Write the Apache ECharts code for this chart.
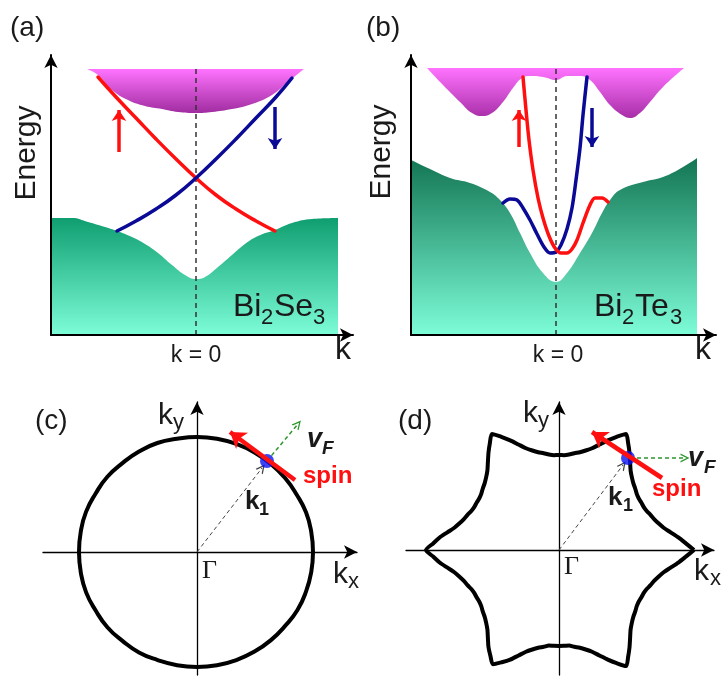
<!DOCTYPE html>
<html><head><meta charset="utf-8">
<script src="https://cdn.jsdelivr.net/npm/echarts@6/dist/echarts.min.js"></script>
<style>html,body{margin:0;padding:0;background:#fff}#c{width:722px;height:677px}</style>
</head><body><div id="c"></div><script>
// ---------- Panel (a) Bi2Se3 : [k, E] ----------
const A_COND_TOP = 266;
const A_COND_LOWER = [[-109,266],[-98,260],[-84,245],[-68,235],[-51,229],[-34,226],[-18,223],[0,222],[16,223],[36,226],[56,231],[76,240],[92,253],[108,266]];
const A_VAL_TOP = [[-145,117],[-124,117],[-108,113],[-91,108],[-79,104],[-64,98],[-51,91],[-38,82],[-24,70],[-11,60],[0,56],[9,58],[22,68],[36,80],[49,91],[62,99],[79,105],[96,112],[116,116],[142,117]];
const A_SURF_UP = [[-98,258],[-80,238],[-60,217],[-40,196],[-20,176],[0,157],[20,140],[40,126],[60,114],[79,104]];
const A_SURF_DN = [[-79,104],[-60,114],[-40,126],[-20,140],[0,157],[20,176],[40,196],[60,217],[80,238],[96,257]];
const A_ARROW_UP = [[-77,183],[-77,225]];
const A_ARROW_DN = [[79,228],[79,186]];
const A_K0 = [[0,0],[0,266]];

// ---------- Panel (b) Bi2Te3 ----------
const B_COND_TOP = 267;
const B_COND_LOWER = [[-129,267],[-113,250],[-96,233],[-84,222],[-74,219],[-64,222],[-53,233],[-43,247],[-34,257],[-26,259],[-13,258],[0,255],[11,259],[24,259],[34,255],[44,243],[54,230],[66,220],[74,217],[84,222],[94,233],[107,248],[128,267]];
const B_VAL_TOP = [[-145,175],[-126,166],[-106,157],[-86,152],[-66,143],[-56,135],[-46,122],[-36,102],[-26,82],[-13,62],[0,53],[11,62],[24,82],[36,102],[46,122],[54,135],[64,145],[87,153],[107,158],[127,168],[141,177]];
const B_SURF_UP = [[-33,258],[-30,225],[-27,195],[-23,165],[-18,137],[-13,117],[-7,99],[-1,87],[5,82],[11,82],[16,86],[21,95],[27,112],[34,130],[39,137],[46,137],[52,133]];
const B_SURF_DN = [[-53,132],[-46,136],[-39,135],[-33,127],[-26,115],[-19,101],[-12,88],[-6,82],[0,83],[5,90],[11,106],[16,127],[20,155],[24,187],[27,220],[31,258]];
const B_ARROW_UP = [[-37,188],[-37,225]];
const B_ARROW_DN = [[36,227],[36,188]];
const B_K0 = [[0,0],[0,267]];

// ---------- Panel (c) circular Fermi surface (polar: angle deg, radius) ----------
const C_FS_ANG = [0,10,20,30,40,50,60,70,80,90,100,110,120,130,140,150,160,170,180,190,200,210,220,230,240,250,260,270,280,290,300,310,320,330,340,350,360];
const C_FS_R   = [116,116,116,115,115,115,115,115,115,115,115,116,116,116,117,117,118,118,118,118,118,117,117,116,116,115,115,115,115,115,115,115,115,116,116,116,116];
const C_K1 = [[0,0],[65,84]];
const C_SPIN = [[98,72],[33,120]];
const C_VF = [[70,91],[101,128]];
const C_DOT = [[70,91]];

// ---------- Panel (d) hexagonally warped Fermi surface ----------
const D_FS_ANG = [0,3,6,9,12,15,18,21,24,27,30,33,36,39,42,45,48,51,54,57,
  60,63,66,69,72,75,78,81,84,87,90,93,96,99,102,105,108,111,114,117,
  120,123,126,129,132,135,138,141,144,147,150,153,156,159,162,165,168,171,174,177,
  180,183,186,189,192,195,198,201,204,207,210,213,216,219,222,225,228,231,234,237,
  240,243,246,249,252,255,258,261,264,267,270,273,276,279,282,285,288,291,294,297,
  300,303,306,309,312,315,318,321,324,327,330,333,336,339,342,345,348,351,354,357,360];
const D_FS_R = [135,127,120,113,107,103,100,98,96,95,95,95,96,98,100,103,107,113,120,127,
  134,127,120,113,107,103,100,98,96,95,95,95,96,98,100,103,107,113,120,127,
  134,127,120,113,107,103,100,98,96,95,95,95,96,98,100,103,107,113,120,126,
  133,126,120,113,107,103,100,98,96,95,95,95,96,98,100,103,107,113,120,126,
  132,126,120,113,107,103,100,98,96,96,96,96,96,98,100,103,107,113,120,127,
  134,127,120,113,107,103,100,98,96,95,95,95,96,98,100,103,107,113,120,127,135];
const D_K1 = [[0,0],[64,85]];
const D_SPIN = [[103,72],[33,118]];
const D_VF = [[78,92],[126,92]];
const D_DOT = [[69,92]];

// ---------- styling ----------
const RED = '#ff1010', BLUE = '#0a0a96', GREEN_ARROW = '#2e962e';
const SANS = '"Liberation Sans", Arial, sans-serif';
const SERIF = '"Liberation Serif", "Times New Roman", serif';
const CHEVRON = 'path://M5,0 L10,10 L8.4,10 L5,3.2 L1.6,10 L0,10 Z';
const G = echarts.graphic;

function grad(c0, c1) { return new G.LinearGradient(0,0,0,1,[{offset:0,color:c0},{offset:1,color:c1}]); }

function condSeries(i, lower, c0, c1) {
  return {type:'line', xAxisIndex:i, yAxisIndex:i, data:lower, smooth:0.45, showSymbol:false,
    lineStyle:{width:0, opacity:0}, areaStyle:{color:grad(c0,c1), opacity:1, origin:'end'}, silent:true, z:1};
}
function valSeries(i, pts, c0, c1) {
  return {type:'line', xAxisIndex:i, yAxisIndex:i, data:pts, smooth:0.45, showSymbol:false,
    lineStyle:{width:0, opacity:0}, areaStyle:{color:grad(c0,c1), opacity:1, origin:'start'}, silent:true, z:1};
}
function curve(i, pts, color, sm) {
  return {type:'line', xAxisIndex:i, yAxisIndex:i, data:pts, smooth:sm, showSymbol:false,
    lineStyle:{width:3.5, color:color, cap:'round', join:'round'}, silent:true, z:4};
}
function arrow(i, coords, color, width, dash, size, sym, z) {
  return {type:'lines', coordinateSystem:'cartesian2d', xAxisIndex:i, yAxisIndex:i, silent:true, z:z||5,
    symbol:['none', sym||'arrow'], symbolSize:size,
    lineStyle:{color:color, width:width, type:dash||'solid', opacity:1, curveness:0},
    data:[{coords:coords}]};
}
function fermi(pi, ang, rad, sm) {
  return {type:'line', coordinateSystem:'polar', polarIndex:pi, data:rad.map((r,k) => [r, ang[k]]),
    smooth:sm, showSymbol:false, lineStyle:{width:4, color:'#000', join:'round'}, silent:true, z:3};
}

const axisBase = (w, onZero, z) => ({
  type:'value', axisLine:{show:true, onZero:onZero, symbol:['none','arrow'], symbolSize:[10,13], lineStyle:{color:'#000', width:w}},
  axisTick:{show:false}, axisLabel:{show:false}, splitLine:{show:false}, z:z
});
const hidden = {type:'value', show:false, splitLine:{show:false}};

function txt(text, x, y, o) {
  o = o || {};
  return {type:'text', x:x, y:y, rotation:o.rot||0, z:10, silent:true,
    style:{text:text, fill:o.color||'#1a1a1a', fontSize:o.size||28, fontFamily:o.family||SANS,
      fontWeight:o.weight||'normal', fontStyle:o.style||'normal', align:o.align||'left', verticalAlign:'middle'}};
}

const option = {
  animation:false,
  backgroundColor:'#fff',
  grid:[
    {left:51, top:55, width:302, height:280},
    {left:411, top:55, width:305, height:280},
    {left:43, top:402, width:314, height:273},
    {left:406, top:402, width:308, height:273},
    {left:51, top:69, width:302, height:266},   // conduction band (a)
    {left:411, top:68, width:305, height:267}   // conduction band (b)
  ],
  xAxis:[
    Object.assign(axisBase(2, false, 6), {gridIndex:0, min:-145, max:157}),
    Object.assign(axisBase(2, false, 6), {gridIndex:1, min:-145, max:160}),
    Object.assign(axisBase(1.3, true, 0), {gridIndex:2, min:-154, max:160}),
    Object.assign(axisBase(1.3, true, 0), {gridIndex:3, min:-153, max:155}),
    Object.assign({}, hidden, {gridIndex:4, min:-145, max:157}),
    Object.assign({}, hidden, {gridIndex:5, min:-145, max:160})
  ],
  yAxis:[
    Object.assign(axisBase(2, false, 6), {gridIndex:0, min:0, max:280}),
    Object.assign(axisBase(2, false, 6), {gridIndex:1, min:0, max:280}),
    Object.assign(axisBase(1.3, true, 0), {gridIndex:2, min:-123, max:150}),
    Object.assign(axisBase(1.3, true, 0), {gridIndex:3, min:-125, max:148}),
    Object.assign({}, hidden, {gridIndex:4, min:0, max:A_COND_TOP}),
    Object.assign({}, hidden, {gridIndex:5, min:0, max:B_COND_TOP})
  ],
  polar:[
    {center:[197,552], radius:150},
    {center:[559,550], radius:150}
  ],
  angleAxis:[
    {polarIndex:0, type:'value', min:0, max:360, startAngle:0, clockwise:false, show:false},
    {polarIndex:1, type:'value', min:0, max:360, startAngle:0, clockwise:false, show:false}
  ],
  radiusAxis:[
    {polarIndex:0, type:'value', min:0, max:150, show:false},
    {polarIndex:1, type:'value', min:0, max:150, show:false}
  ],
  series:[
    // (a)
    valSeries(0, A_VAL_TOP, '#0f9e70', '#7dfdd8'),
    condSeries(4, A_COND_LOWER, '#ff73ff', '#a02ca0'),
    arrow(0, A_K0, '#333', 1.5, [5,4], 0, 'none', 3),
    curve(0, A_SURF_UP, RED, 0.5),
    curve(0, A_SURF_DN, BLUE, 0.5),
    arrow(0, A_ARROW_UP, RED, 3.5, 'solid', 11),
    arrow(0, A_ARROW_DN, BLUE, 3.5, 'solid', 11),
    // (b)
    valSeries(1, B_VAL_TOP, '#137553', '#7dfdd8'),
    condSeries(5, B_COND_LOWER, '#ff73ff', '#a82ea8'),
    arrow(1, B_K0, '#333', 1.5, [5,4], 0, 'none', 3),
    curve(1, B_SURF_DN, BLUE, 0.3),
    curve(1, B_SURF_UP, RED, 0.3),
    arrow(1, B_ARROW_UP, RED, 3.5, 'solid', 11),
    arrow(1, B_ARROW_DN, BLUE, 3.5, 'solid', 11),
    // (c)
    fermi(0, C_FS_ANG, C_FS_R, 0.5),
    arrow(2, C_K1, '#444', 1, [4,3], 9, CHEVRON),
    arrow(2, C_VF, GREEN_ARROW, 1.5, [4,3], 9, CHEVRON),
    {type:'scatter', xAxisIndex:2, yAxisIndex:2, data:C_DOT, symbolSize:14, itemStyle:{color:'#0a14f0'}, silent:true, z:6},
    arrow(2, C_SPIN, RED, 4.5, 'solid', 15, 'arrow', 7),
    // (d)
    fermi(1, D_FS_ANG, D_FS_R, 0.25),
    arrow(3, D_K1, '#444', 1, [4,3], 9, CHEVRON),
    arrow(3, D_VF, GREEN_ARROW, 1.5, [4,3], 9, CHEVRON),
    {type:'scatter', xAxisIndex:3, yAxisIndex:3, data:D_DOT, symbolSize:14, itemStyle:{color:'#0a14f0'}, silent:true, z:6},
    arrow(3, D_SPIN, RED, 4.5, 'solid', 15, 'arrow', 7)
  ],
  graphic:[
    txt('(a)', 10, 28), txt('(b)', 366, 28), txt('(c)', 35, 421), txt('(d)', 398, 421),
    txt('Energy', 27, 153, {size:30, align:'center', rot:Math.PI/2}),
    txt('Energy', 382, 152, {size:30, align:'center', rot:Math.PI/2}),
    txt('k = 0', 196, 356, {size:23, align:'center'}),
    txt('k = 0', 558, 356, {size:23, align:'center'}),
    txt('k', 343, 350, {size:32, align:'center'}),
    txt('k', 703, 350, {size:32, align:'center'}),
    txt('Bi', 233, 307, {size:32}), txt('2', 261, 318, {size:22}), txt('Se', 274, 307, {size:32}), txt('3', 313, 318, {size:22}),
    txt('Bi', 594, 307, {size:32}), txt('2', 622, 318, {size:22}), txt('Te', 635, 307, {size:32}), txt('3', 670, 318, {size:22}),
    // (c)
    txt('k', 158, 416, {size:30}), txt('y', 173, 423, {size:22}),
    txt('k', 333, 575, {size:30}), txt('x', 348, 582, {size:22}),
    txt('Γ', 202, 571, {size:26, family:SERIF}),
    txt('v', 307, 440, {size:27, weight:'bold', style:'italic'}), txt('F', 322, 449, {size:19, weight:'bold', style:'italic'}),
    txt('spin', 303, 476, {size:24, weight:'bold', color:RED}),
    txt('k', 245, 502, {size:26, weight:'bold'}), txt('1', 259, 510, {size:18, weight:'bold'}),
    // (d)
    txt('k', 523, 414, {size:30}), txt('y', 538, 421, {size:22}),
    txt('k', 694, 572, {size:30}), txt('x', 710, 579, {size:22}),
    txt('Γ', 564, 567, {size:26, family:SERIF}),
    txt('v', 688, 459, {size:27, weight:'bold', style:'italic'}), txt('F', 704, 468, {size:19, weight:'bold', style:'italic'}),
    txt('spin', 652, 489, {size:24, weight:'bold', color:RED}),
    txt('k', 608, 498, {size:26, weight:'bold'}), txt('1', 623, 506, {size:18, weight:'bold'})
  ]
};

const chart = echarts.init(document.getElementById('c'), null, {renderer:'canvas'});
chart.setOption(option);
</script></body></html>
